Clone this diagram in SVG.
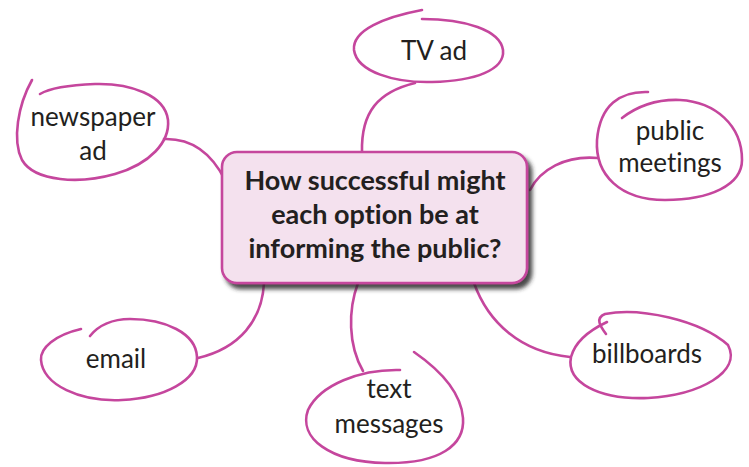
<svg xmlns="http://www.w3.org/2000/svg" width="749" height="467" viewBox="0 0 749 467">
  <defs>
    <filter id="shadow" x="-10%" y="-10%" width="125%" height="130%">
      <feDropShadow dx="4" dy="5" stdDeviation="2.2" flood-color="#2a2a2a" flood-opacity="0.85"/>
    </filter>
  </defs>
  <style>
    .loop, .link { fill: none; stroke: #c5469d; stroke-width: 2.6; stroke-linecap: round; }
    .label { font-family: Lato, "Open Sans", "Liberation Sans", sans-serif; font-size: 26px; fill: #231f20; text-anchor: middle; font-variant-ligatures: none; }
    .hub { font-family: Lato, "Open Sans", "Liberation Sans", sans-serif; font-size: 27px; font-weight: bold; fill: #231f20; text-anchor: middle; font-variant-ligatures: none; }
  </style>
  <rect width="749" height="467" fill="#ffffff"/>

  <!-- connectors -->
  <g id="connectors">
    <path class="link" d="M415,83 C378,92 361,112 362,152"/>
    <path class="link" d="M164,139 C195,138 213,156 225,180"/>
    <path class="link" d="M598,158 C565,155 540,170 530,190"/>
    <path class="link" d="M198,358 C240,348 262,320 264,283"/>
    <path class="link" d="M358,283 C348,310 348,345 363,371"/>
    <path class="link" d="M570,357 C520,352 488,322 474,283"/>
  </g>

  <!-- central question -->
  <g id="hub">
    <rect x="222" y="152" width="305" height="131" rx="15" fill="#f4e1ee" stroke="#c5469d" stroke-width="2.6" filter="url(#shadow)"/>
    <text class="hub" x="375" y="190">How successful might</text>
    <text class="hub" x="375" y="224">each option be at</text>
    <text class="hub" x="375" y="258">informing the public?</text>
  </g>

  <g id="tv-ad">
    <path class="loop" d="M422,10 C385,17 352,30 354,50 C357,72 395,83 432,82 C475,81 505,70 503,50 C500,30 465,19 422,19"/>
    <text class="label" x="434" y="60">TV ad</text>
  </g>

  <g id="newspaper-ad">
    <path class="loop" d="M32,80 C18,105 12,140 22,160 C35,182 80,184 115,174 C150,164 170,142 168,120 C165,95 130,83 95,84 C70,85 50,88 40,94"/>
    <text class="label" x="93" y="126">newspaper</text>
    <text class="label" x="93" y="160">ad</text>
  </g>

  <g id="public-meetings">
    <path class="loop" d="M648,92 C620,91 600,105 597,140 C595,175 620,200 665,200 C710,200 742,185 742,160 C742,125 715,102 680,100 C655,99 635,108 622,118"/>
    <text class="label" x="670" y="140">public</text>
    <text class="label" x="670" y="172">meetings</text>
  </g>

  <g id="email">
    <path class="loop" d="M81,329 C55,335 40,348 41,360 C43,385 80,402 122,400 C165,398 198,380 197,357 C196,333 165,319 130,319 C112,319 98,326 90,336"/>
    <text class="label" x="116" y="368">email</text>
  </g>

  <g id="text-messages">
    <path class="loop" d="M400,370 C360,369 320,385 308,410 C298,438 330,462 385,463 C440,464 465,445 463,418 C461,392 440,370 414,352"/>
    <text class="label" x="389" y="398">text</text>
    <text class="label" x="389" y="433">messages</text>
  </g>

  <g id="billboards">
    <path class="loop" d="M606,334 C600,326 595,318 605,314 C640,307 700,320 728,345 C742,372 700,395 648,398 C598,400 566,382 571,357 C575,342 590,330 607,322"/>
    <text class="label" x="647" y="363">billboards</text>
  </g>
</svg>
